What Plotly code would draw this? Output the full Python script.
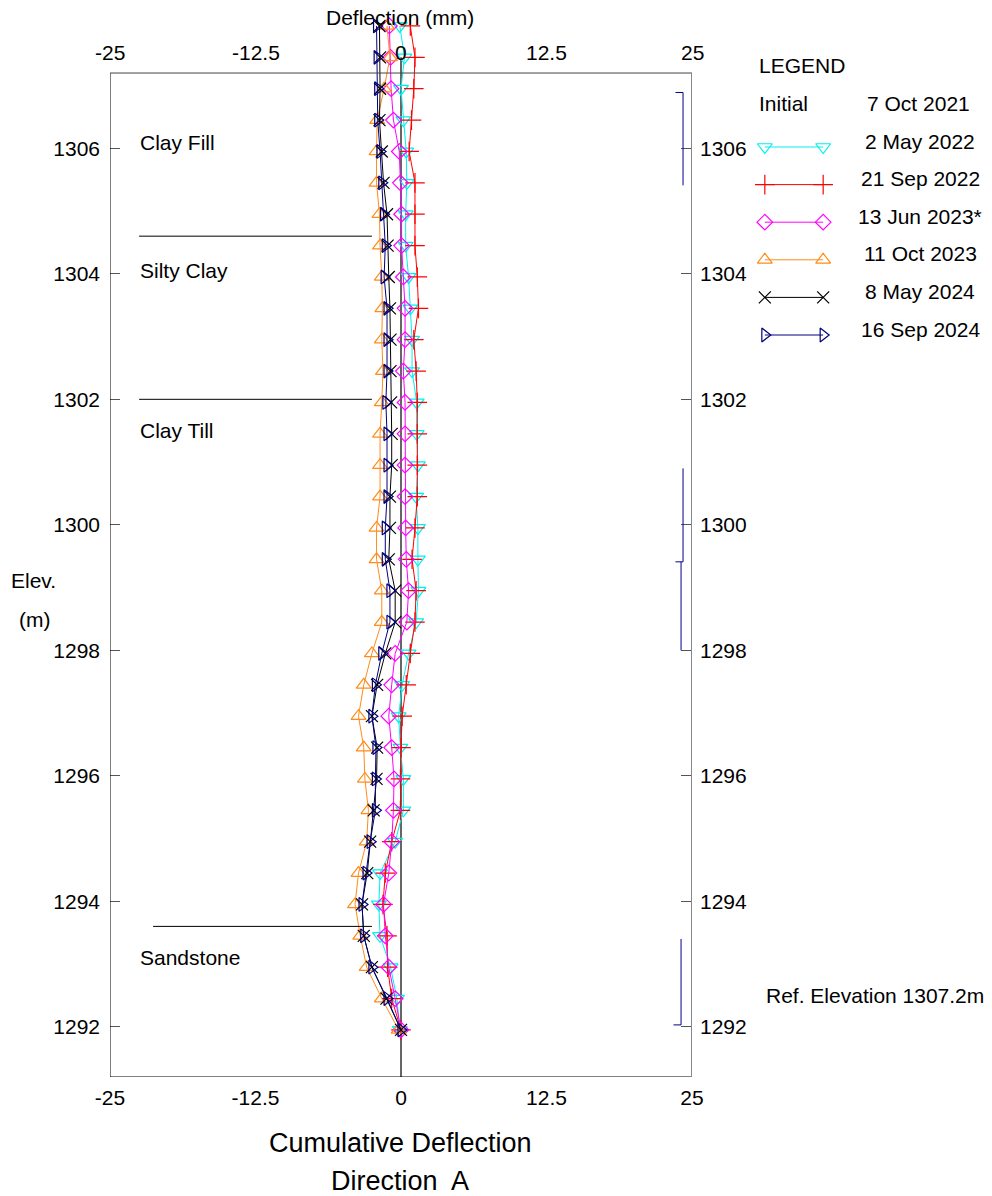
import plotly.graph_objects as go

# ---------------- data ----------------
ELEV = [1307.95, 1307.45, 1306.95, 1306.45, 1305.95, 1305.45, 1304.95, 1304.45,
        1303.95, 1303.45, 1302.95, 1302.45, 1301.95, 1301.45, 1300.95, 1300.45,
        1299.95, 1299.45, 1298.95, 1298.45, 1297.95, 1297.45, 1296.95, 1296.45,
        1295.95, 1295.45, 1294.95, 1294.45, 1293.95, 1293.45, 1292.95, 1292.45,
        1291.95]

may_2022 = [-0.1, 0.3, 0.0, 0.2, 0.45, 0.5, 0.4, 0.4, 0.65, 0.8, 0.95, 0.95,
            1.35, 1.35, 1.45, 1.3, 1.45, 1.45, 1.5, 1.3, 0.65, 0.1, -0.2, -0.05,
            0.2, 0.2, -0.5, -1.8, -1.9, -1.8, -0.9, -0.35, -0.1]
sep_2022 = [0.8, 1.2, 1.1, 0.9, 0.7, 1.2, 1.2, 1.2, 1.4, 1.5, 1.1, 1.3,
            1.4, 1.4, 1.4, 1.4, 1.2, 0.95, 1.3, 1.2, 0.8, 0.45, 0.1, 0.0,
            -0.05, -0.05, -0.8, -1.35, -1.55, -1.2, -1.15, -0.8, 0.0]
jun_2023 = [-1.0, -0.9, -0.85, -0.65, -0.15, -0.05, 0.05, 0.05, 0.2, 0.35, 0.35, 0.2,
            0.35, 0.35, 0.35, 0.35, 0.4, 0.45, 0.65, 0.5, -0.5, -0.8, -1.05, -0.8,
            -0.6, -0.65, -0.8, -1.05, -1.5, -1.35, -1.05, -0.5, 0.0]
oct_2023 = [-1.2, -0.95, -1.45, -2.05, -2.1, -2.1, -1.85, -1.8, -1.65, -1.6, -1.65, -1.55,
            -1.65, -1.8, -1.8, -1.8, -2.1, -2.1, -1.65, -1.65, -2.5, -3.2, -3.65, -3.2,
            -3.1, -2.8, -2.95, -3.65, -3.95, -3.5, -2.95, -1.65, -0.2]
may_2024 = [-1.85, -1.8, -1.8, -1.85, -1.65, -1.5, -1.2, -1.15, -1.05, -0.95, -0.9, -0.9,
            -0.85, -0.8, -0.8, -0.95, -0.95, -1.05, -0.5, -0.5, -1.35, -2.05, -2.5, -2.05,
            -2.1, -2.35, -2.65, -2.9, -3.35, -3.2, -2.5, -1.25, 0.0]
sep_2024 = [-2.1, -2.05, -2.0, -2.0, -1.8, -1.65, -1.5, -1.35, -1.45, -1.2, -1.2, -1.2,
            -1.3, -1.2, -1.2, -1.2, -1.35, -1.35, -0.95, -0.95, -1.65, -2.2, -2.5, -2.15,
            -2.2, -2.2, -2.65, -3.0, -3.35, -3.2, -2.5, -1.2, 0.0]

INITIAL_DATE = "7 Oct 2021"
SURVEY_DATES = ["2 May 2022", "21 Sep 2022", "13 Jun 2023*",
                "11 Oct 2023", "8 May 2024", "16 Sep 2024"]

X_TICKS = [-25, -12.5, 0, 12.5, 25]
X_TICK_TEXT = ["-25", "-12.5", "0", "12.5", "25"]
Y_TICKS = [1292, 1294, 1296, 1298, 1300, 1302, 1304, 1306]

STRATA = ["Clay Fill", "Silty Clay", "Clay Till", "Sandstone"]
STRATA_LABEL_ELEV = [1306.1, 1304.05, 1301.5, 1293.1]
CONTACT_ELEV = [1304.6, 1302.0, 1293.6]
CONTACT_START = [-22.5, -22.5, -21.3]

REF_ELEV = 1307.2
BOTTOM_ELEV = 1291.2

# zone brackets along the right axis: (x, top, bottom, cap)
ZONES = [(24.23, 1306.89, 1305.41, "top"),
         (24.23, 1300.90, 1299.41, "bottom"),
         (24.06, 1299.41, 1298.00, None),
         (24.06, 1293.40, 1292.03, "bottom")]

# ---------------- styling ----------------
SERIES = [may_2022, sep_2022, jun_2023, oct_2023, may_2024, sep_2024]
COLORS = ["#00F0F0", "#FF0000", "#FF00FF", "#FF8C1A", "#000000", "#000080"]
SYMBOLS = ["triangle-down-open", "cross-thin-open", "diamond-open",
           "triangle-up-open", "x-thin-open", "triangle-right-open"]
SIZES = [13, 14, 12, 13, 12, 12]

FONT = "Liberation Sans, Arial, sans-serif"
FS = 21
W, H = 992, 1196
ML, MR, MT, MB = 110, 2, 4, 119
PW, PH = W - ML - MR, H - MT - MB
FRAME_RIGHT_PX = 692
Y_TOP = 1308.3


def px(x):
    return (x - ML) / PW


def py(y):
    return (H - MB - y) / PH


fig = go.Figure()

for k, (vals, col, sym, size) in enumerate(zip(SERIES, COLORS, SYMBOLS, SIZES)):
    fig.add_trace(go.Scatter(
        x=vals, y=ELEV, mode="lines+markers", cliponaxis=False,
        yaxis="y2" if k == len(SERIES) - 1 else "y",
        line=dict(color=col, width=1),
        marker=dict(symbol=sym, size=size, color=col,
                    line=dict(color=col, width=1.2)),
        showlegend=False, hoverinfo="skip"))

# legend keys drawn on their own small axes
for i, (col, sym, size) in enumerate(zip(COLORS, SYMBOLS, SIZES)):
    fig.add_trace(go.Scatter(
        x=[0, 1], y=[i, i], xaxis="x3", yaxis="y3", mode="lines+markers",
        cliponaxis=False, line=dict(color=col, width=1),
        marker=dict(symbol=sym, size=size, color=col,
                    line=dict(color=col, width=1.2)),
        showlegend=False, hoverinfo="skip"))

shapes = []
# frame
shapes.append(dict(type="line", xref="x", yref="y", x0=-25, x1=-25,
                   y0=BOTTOM_ELEV, y1=REF_ELEV, line=dict(color="#000", width=1)))
shapes.append(dict(type="line", xref="x", yref="y", x0=-25, x1=25,
                   y0=BOTTOM_ELEV, y1=BOTTOM_ELEV, line=dict(color="#000", width=1)))
shapes.append(dict(type="line", xref="x", yref="y", x0=-25, x1=25,
                   y0=REF_ELEV, y1=REF_ELEV, line=dict(color="#444", width=1)))
shapes.append(dict(type="line", xref="x", yref="y", x0=25, x1=25,
                   y0=BOTTOM_ELEV, y1=REF_ELEV, line=dict(color="#888", width=2)))
# zero line
shapes.append(dict(type="line", xref="x", yref="y", x0=0, x1=0,
                   y0=BOTTOM_ELEV, y1=1307.45, line=dict(color="#666", width=2),
                   layer="below"))
# stratigraphic contacts
for e, x0 in zip(CONTACT_ELEV, CONTACT_START):
    shapes.append(dict(type="line", xref="x", yref="y", x0=x0, x1=-2.5,
                       y0=e, y1=e, line=dict(color="#000", width=1)))
# zone brackets
for x, top, bot, cap in ZONES:
    shapes.append(dict(type="line", xref="x", yref="y", x0=x, x1=x, y0=bot, y1=top,
                       line=dict(color="#00008B", width=1)))
    if cap:
        ey = top if cap == "top" else bot
        shapes.append(dict(type="line", xref="x", yref="y", x0=x - 0.65, x1=x,
                           y0=ey, y1=ey, line=dict(color="#00008B", width=1)))

ann = []


def label(text, x, y, size=FS, xanchor="center", xref="paper", yref="paper"):
    ann.append(dict(text=text, x=x, y=y, xref=xref, yref=yref, xanchor=xanchor,
                    yanchor="middle", showarrow=False,
                    font=dict(family=FONT, size=size, color="#000")))


# top tick labels
for v, t in zip(X_TICKS, X_TICK_TEXT):
    ann.append(dict(text=t, x=v, y=REF_ELEV, xref="x", yref="y", xanchor="center",
                    yanchor="bottom", yshift=7, showarrow=False,
                    font=dict(family=FONT, size=FS, color="#000")))
label("Deflection (mm)", px(400), py(18))
label("Elev.", px(33), py(580))
label("(m)", px(34), py(620))
for name, e in zip(STRATA, STRATA_LABEL_ELEV):
    label(name, -22.6, e, xanchor="left", xref="x", yref="y")
label("LEGEND", px(757), py(66), xanchor="left")
label("Initial", px(757), py(104), xanchor="left")
label(INITIAL_DATE, px(918), py(104))
for i, d in enumerate(SURVEY_DATES):
    label(d, px(920), py(141 + 37.6 * i))
label(f"Ref. Elevation {REF_ELEV}m", px(764), py(995), xanchor="left")
label("Cumulative Deflection", px(400), py(1143), size=27)
label("Direction  A", px(400), py(1181), size=27)

axis_common = dict(showgrid=False, zeroline=False, showline=False)

fig.update_layout(
    width=W, height=H,
    margin=dict(l=ML, r=MR, t=MT, b=MB, autoexpand=False),
    paper_bgcolor="white", plot_bgcolor="white",
    font=dict(family=FONT, size=FS, color="#000"),
    xaxis=dict(domain=[0, px(FRAME_RIGHT_PX)], range=[-25, 25], tickvals=X_TICKS,
               ticktext=X_TICK_TEXT, ticks="", tickfont=dict(size=FS),
               ticklabelstandoff=6, automargin=False, **axis_common),
    yaxis=dict(range=[BOTTOM_ELEV, Y_TOP], tickvals=Y_TICKS, ticks="inside",
               ticklen=10, tickcolor="#555", tickfont=dict(size=FS),
               ticklabelstandoff=9, automargin=False, **axis_common),
    yaxis2=dict(overlaying="y", side="right", anchor="x", matches="y",
                range=[BOTTOM_ELEV, Y_TOP], tickvals=Y_TICKS, ticks="inside",
                ticklen=11, tickcolor="#555", tickfont=dict(size=FS),
                ticklabelstandoff=7, automargin=False, **axis_common),
    xaxis3=dict(domain=[px(759), px(829)], range=[-0.1, 1.1], visible=False,
                anchor="y3"),
    yaxis3=dict(domain=[py(335 + 18.8), py(147 - 18.8)], range=[5.5, -0.5],
                visible=False, anchor="x3"),
    shapes=shapes, annotations=ann,
)

fig.write_html("out.html")
